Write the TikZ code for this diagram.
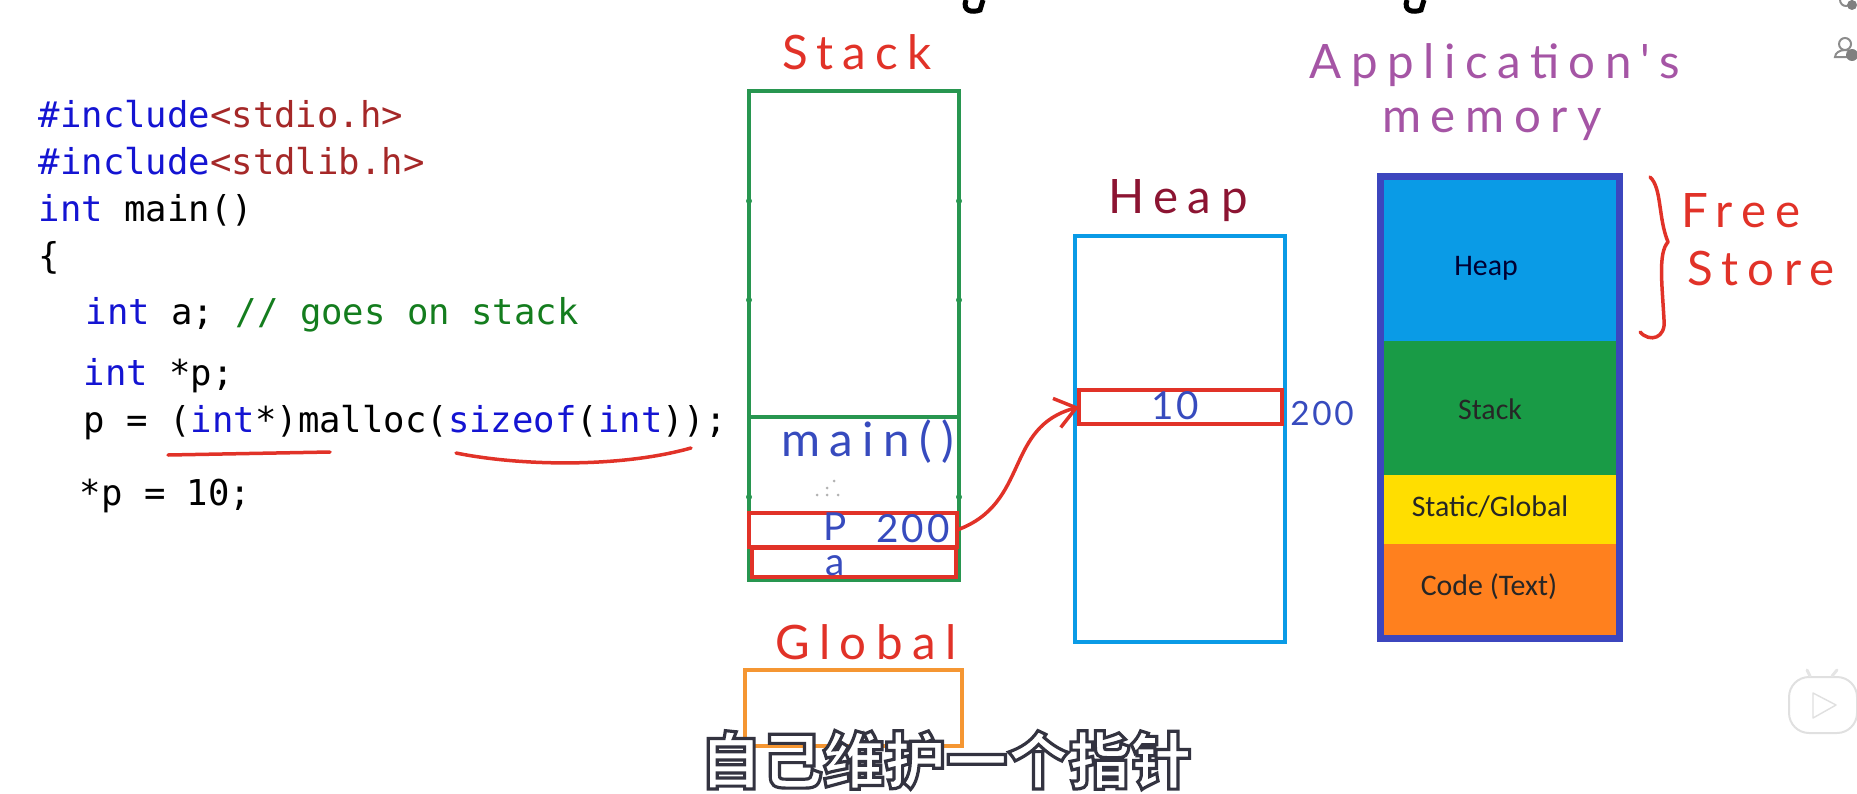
\documentclass[tikz,border=0pt]{standalone}
\usepackage{fontspec}
\setmainfont{Carlito}
\newfontfamily\codefont{DejaVu Sans Mono}
\newfontfamily\handfont[LetterSpace=20]{Lato}
\newfontfamily\handsmall[LetterSpace=8]{Lato}
\newfontfamily\cjkfont{Noto Sans CJK SC}
\usepackage{tikz}
\usetikzlibrary{positioning,arrows.meta}

\definecolor{stackgreen}{RGB}{40,150,80}
\definecolor{heapblue}{RGB}{10,155,230}
\definecolor{boxred}{RGB}{225,50,40}
\definecolor{globalorange}{RGB}{245,150,50}
\definecolor{appblue}{RGB}{60,70,190}
\definecolor{fillgreen}{RGB}{25,155,70}
\definecolor{fillyellow}{RGB}{255,222,0}
\definecolor{fillorange}{RGB}{255,128,30}
\definecolor{keyblue}{RGB}{20,20,210}
\definecolor{strred}{RGB}{165,40,40}
\definecolor{cmtgreen}{RGB}{20,125,30}
\definecolor{penblue}{RGB}{55,75,190}
\definecolor{penmaroon}{RGB}{140,20,50}
\definecolor{penpurple}{RGB}{165,85,165}

\tikzset{
  membox/.style={draw, line width=0.4mm, minimum width=2cm, inner sep=0, outer sep=0},
  memfill/.style={minimum width=2.33cm, inner sep=0, outer sep=0},
  codeline/.style={anchor=base west, inner sep=0, font=\codefont\fontsize{10.13}{12}\selectfont},
  seglabel/.style={inner sep=0, font=\fontsize{8.5}{10}\selectfont},
  penlabel/.style={inner sep=0, font=\handfont\fontsize{13.5}{15}\selectfont},
  pensmall/.style={inner sep=0, text=penblue, font=\handsmall\fontsize{11}{12}\selectfont},
  pen/.style={line width=0.35mm, line cap=round, line join=round},
  uigray/.style={draw=black!45, line width=0.2mm},
  tick/.style={fill=stackgreen, inner sep=0, minimum size=0.6mm, circle},
  speck/.style={fill=black!30, inner sep=0, minimum size=0.3mm, circle}
}

\begin{document}
\begin{tikzpicture}
\useasboundingbox (0,0) rectangle (18.57,7.93);

% source code
\node[codeline] (line1) at (0.38,6.66) {\textcolor{keyblue}{\#include}\textcolor{strred}{<stdio.h>}};
\node[codeline] (line2) at (0.38,6.19) {\textcolor{keyblue}{\#include}\textcolor{strred}{<stdlib.h>}};
\node[codeline] (line3) at (0.38,5.72) {\textcolor{keyblue}{int} main()};
\node[codeline] (line4) at (0.38,5.25) {\{};
\node[codeline] (line5) at (0.85,4.69) {\textcolor{keyblue}{int} a; \textcolor{cmtgreen}{// goes on stack}};
\node[codeline] (line6) at (0.83,4.08) {\textcolor{keyblue}{int} *p;};
\node[codeline] (line7) at (0.83,3.61) {p = (\textcolor{keyblue}{int}*)malloc(\textcolor{keyblue}{sizeof}(\textcolor{keyblue}{int}));};
\node[codeline] (line8) at (0.79,2.88) {*p = 10;};

% red underlines
\coordinate (castl) at (1.68,3.38);
\coordinate (castr) at (3.30,3.41);
\coordinate (sizel) at (4.56,3.40);
\coordinate (sizer) at (6.91,3.45);
\draw[pen,boxred] (castl) -- (castr);
\draw[pen,boxred] (sizel) .. controls (5.2,3.27) and (6.2,3.25) .. (sizer);

% stack
\node[penlabel,text=boxred] (stacktitle) at (8.57,7.41) {Stack};
\node[membox,draw=stackgreen,minimum width=2.10cm,minimum height=4.89cm] (stack) at (8.54,4.575) {};
\coordinate (framel) at (7.49,3.76);
\coordinate (framer) at (9.59,3.76);
\draw[line width=0.4mm,stackgreen] (framel) -- (framer);
\node[tick] (tickl1) at (7.49,5.92) {};
\node[tick] (tickr1) at (9.59,5.92) {};
\node[tick] (tickl2) at (7.49,4.93) {};
\node[tick] (tickr2) at (9.59,4.93) {};
\node[tick] (tickl3) at (7.49,2.96) {};
\node[tick] (tickr3) at (9.59,2.96) {};
\node[penlabel,text=penblue] (mainlabel) at (8.68,3.51) {main()};
\node[speck] (speck1) at (8.34,3.12) {};
\node[speck] (speck2) at (8.27,3.05) {};
\node[speck] (speck3) at (8.17,2.98) {};
\node[speck] (speck4) at (8.27,2.98) {};
\node[speck] (speck5) at (8.38,2.98) {};
\node[membox,draw=boxred,minimum width=2.08cm,minimum height=0.34cm] (pbox) at (8.53,2.63) {};
\node[membox,draw=boxred,minimum width=2.04cm,minimum height=0.29cm] (abox) at (8.54,2.305) {};
\node[pensmall] (plabel) at (8.35,2.66) {P};
\node[pensmall] (pvalue) at (9.13,2.64) {200};
\node[pensmall] (alabel) at (8.35,2.27) {a};

% global
\node[penlabel,text=boxred] (globaltitle) at (8.66,1.51) {Global};
\node[membox,draw=globalorange,minimum width=2.17cm,minimum height=0.76cm] (global) at (8.535,0.85) {};

% heap
\node[penlabel,text=penmaroon] (heaptitle) at (11.78,5.92) {Heap};
\node[membox,draw=heapblue,minimum width=2.10cm,minimum height=4.06cm] (heap) at (11.80,3.54) {};
\node[membox,draw=boxred,minimum width=2.03cm,minimum height=0.34cm] (tenbox) at (11.805,3.86) {};
\node[pensmall] (tenlabel) at (11.75,3.87) {10};
\node[pensmall,font=\handsmall\fontsize{9.5}{11}\selectfont] (tenaddr) at (13.22,3.79) {200};
\draw[pen,boxred,-{Straight Barb[length=2mm,width=3mm]}] (pbox.east) to[out=20,in=195,looseness=1.15] (tenbox.west);

% application's memory
\node[penlabel,text=penpurple] (apptitle) at (14.95,7.28) {Application's};
\node[penlabel,text=penpurple] (appmem) at (14.92,6.69) {memory};
\node[memfill,fill=heapblue,minimum height=1.65cm] (appheap) at (14.995,5.345) {};
\node[memfill,fill=fillgreen,minimum height=1.34cm,below=0cm of appheap] (appstack) {};
\node[memfill,fill=fillyellow,minimum height=0.69cm,below=0cm of appstack] (appstatic) {};
\node[memfill,fill=fillorange,minimum height=0.91cm,below=0cm of appstatic] (appcode) {};
\node[membox,draw=appblue,line width=0.7mm,minimum width=2.39cm,minimum height=4.62cm] (appbox) at (14.995,3.86) {};
\node[seglabel,text=black!80!blue] (heapseg) at (14.86,5.25) {Heap};
\node[seglabel,text=black!85] (stackseg) at (14.90,3.84) {Stack};
\node[seglabel,text=black!85] (staticseg) at (14.90,2.86) {Static/Global};
\node[seglabel,text=black!85] (codeseg) at (14.89,2.06) {Code (Text)};

% free store brace
\draw[pen,boxred] (16.50,6.16) .. controls (16.62,6.05) and (16.58,5.75) .. (16.68,5.51)
  .. controls (16.58,5.40) and (16.62,5.10) .. (16.64,4.73)
  .. controls (16.66,4.55) and (16.50,4.50) .. (16.40,4.61);
\node[penlabel,text=boxred] (freelabel) at (17.41,5.82) {Free};
\node[penlabel,text=boxred] (storelabel) at (17.61,5.25) {Store};

% scraps at the page edges
\draw[line width=0.5mm,black] (9.66,7.93) .. controls (9.62,7.82) and (9.72,7.80) .. (9.80,7.83) -- (9.83,7.93);
\draw[line width=0.5mm,black] (14.07,7.93) .. controls (14.03,7.82) and (14.13,7.80) .. (14.21,7.83) -- (14.24,7.93);
\draw[uigray] (18.46,7.93) circle (0.06);
\fill[black!50] (18.52,7.88) circle (0.05);
\draw[uigray] (18.45,7.49) circle (0.06);
\draw[uigray] (18.35,7.36) arc (180:0:0.1 and 0.07) -- cycle;
\fill[black!50] (18.52,7.38) circle (0.06);

% subtitle
\node[inner sep=0,text=white,font=\cjkfont\bfseries\fontsize{17.5}{20}\selectfont] (subtitle) at (9.46,0.33)
  {\special{pdf:code q 2 Tr 0.9 w 0.2 0.2 0.25 RG}自己维护一个指针\special{pdf:code Q}};

% play button
\node[draw=black!12,fill=white,rounded corners=2mm,line width=0.2mm,minimum width=0.68cm,minimum height=0.56cm,inner sep=0] (playbox) at (18.23,0.88) {};
\coordinate (antl) at (18.07,1.23);
\coordinate (antr) at (18.37,1.23);
\draw[black!10,line width=0.3mm,line cap=round] (playbox.north)+(-0.13,0) -- (antl);
\draw[black!10,line width=0.3mm,line cap=round] (playbox.north)+(0.09,0) -- (antr);
\draw[draw=black!12,line join=round] (18.13,1.00) -- (18.13,0.75) -- (18.36,0.88) -- cycle;
\end{tikzpicture}
\end{document}
